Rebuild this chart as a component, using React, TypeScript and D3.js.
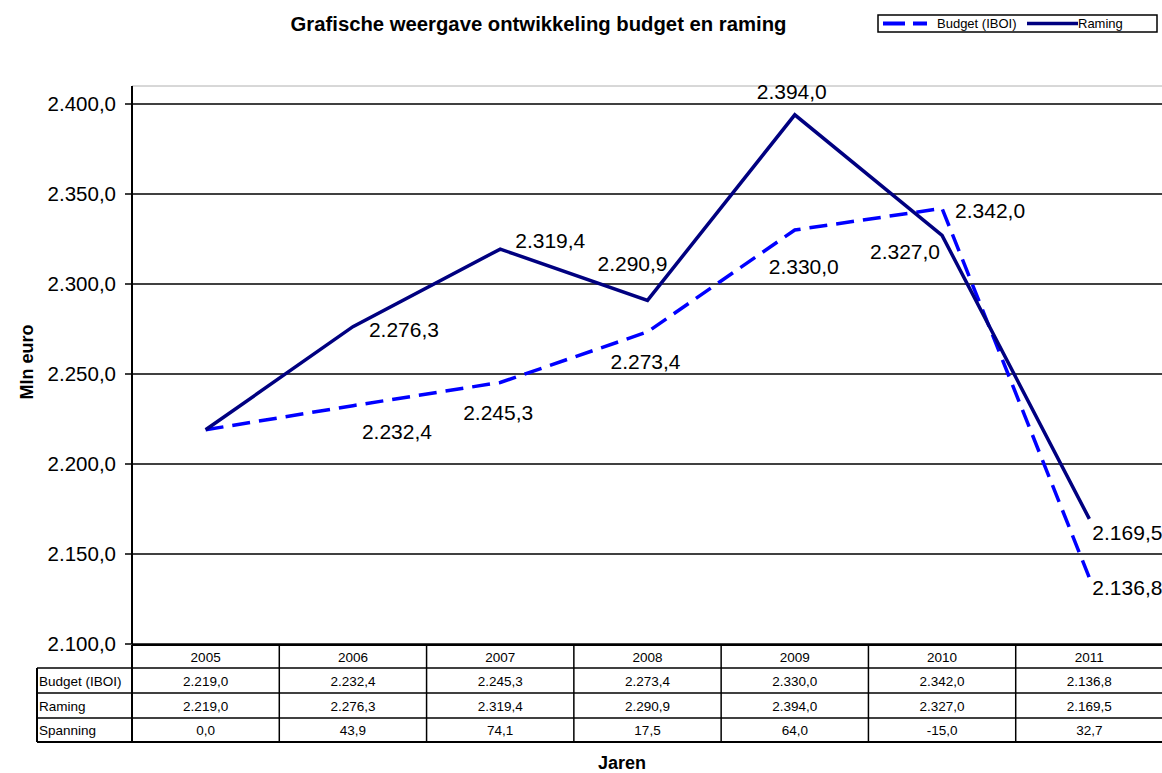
import React from "react";
import * as d3 from "d3";

const years = ["2005", "2006", "2007", "2008", "2009", "2010", "2011"];
const budget = [2219.0, 2232.4, 2245.3, 2273.4, 2330.0, 2342.0, 2136.8];
const raming = [2219.0, 2276.3, 2319.4, 2290.9, 2394.0, 2327.0, 2169.5];
const spanning = [0.0, 43.9, 74.1, 17.5, 64.0, -15.0, 32.7];
const yTicks = [2100, 2150, 2200, 2250, 2300, 2350, 2400];

// label placement (anchor, dx, dy) relative to points; null = no label
const ramingLabelPos: ([string, number, number] | null)[] = [
  null,
  ["start", 16, 10],
  ["start", 15, -1],
  ["middle", -15, -29],
  ["middle", -3, -16],
  ["end", -2, 24],
  ["start", 3, 21],
];
const budgetLabelPos: ([string, number, number] | null)[] = [
  null,
  ["start", 9, 33],
  ["middle", -2, 38],
  ["middle", -2, 37],
  ["middle", 9, 44],
  ["start", 13, 10],
  ["start", 3, 17],
];

const loc = d3.formatLocale({
  decimal: ",",
  thousands: ".",
  grouping: [3],
  currency: ["€", ""],
  minus: "-",
});
const fmt = loc.format(",.1f");

const W = 1162;
const H = 773;
const FONT = "Arial, 'Liberation Sans', sans-serif";

export default function App() {
  const left = 132;
  const right = 1163;
  const top = 86;
  const bottom = 644;
  const x = d3.scaleBand<string>().domain(years).range([left, right]).padding(0);
  const y = d3.scaleLinear().domain([2100, 2410]).range([bottom, top]);
  const cx = (i: number) => (x(years[i]) as number) + x.bandwidth() / 2;

  const line = d3
    .line<number>()
    .x((_, i) => cx(i))
    .y((d) => y(d));

  const rowH = [645, 668, 693, 718, 742];
  const tableLeft = 37;
  const rowNames = ["Budget (IBOI)", "Raming", "Spanning"];
  const rowData = [budget, raming, spanning];

  return (
    <svg
      width={W}
      height={H}
      style={{ position: "absolute", left: 0, top: 0, background: "#fff" }}
      fontFamily={FONT}
    >
      <rect x={0} y={0} width={W} height={H} fill="#fff" />
      {/* title */}
      <text x={538.5} y={30.5} textAnchor="middle" fontSize={20.3} fontWeight="bold">
        Grafische weergave ontwikkeling budget en raming
      </text>
      {/* legend */}
      <rect x={878} y={15} width={279} height={17} fill="#fff" stroke="#000" strokeWidth={1.5} />
      <line x1={883} x2={927} y1={23.5} y2={23.5} stroke="#0000FF" strokeWidth={4} strokeDasharray="22,8" />
      <text x={937} y={28} fontSize={13}>Budget (IBOI)</text>
      <line x1={1027} x2={1078} y1={23.5} y2={23.5} stroke="#000080" strokeWidth={3.5} />
      <text x={1078} y={28} fontSize={13}>Raming</text>

      {/* plot top border */}
      <line x1={left} x2={W} y1={top} y2={top} stroke="#b0b0b0" strokeWidth={1} />
      {/* gridlines */}
      {yTicks.map((t) => (
        <g key={t}>
          <line x1={left} x2={W} y1={y(t)} y2={y(t)} stroke="#000" strokeWidth={1.5} />
          <line x1={125} x2={left} y1={y(t)} y2={y(t)} stroke="#000" strokeWidth={1.5} />
          <text x={116} y={y(t) + 7} textAnchor="end" fontSize={20.5}>
            {fmt(t)}
          </text>
        </g>
      ))}
      {/* y axis */}
      <line x1={left} x2={left} y1={top} y2={bottom} stroke="#000" strokeWidth={2} />

      {/* series */}
      <path d={line(budget) || ""} fill="none" stroke="#0000FF" strokeWidth={3.5} strokeDasharray="18,9" />
      <path d={line(raming) || ""} fill="none" stroke="#000080" strokeWidth={3.5} strokeLinejoin="miter" />

      {/* data labels */}
      {raming.map((v, i) => {
        const p = ramingLabelPos[i];
        if (!p) return null;
        return (
          <text key={"r" + i} x={cx(i) + p[1]} y={y(v) + p[2]} textAnchor={p[0] as any} fontSize={21}>
            {fmt(v)}
          </text>
        );
      })}
      {budget.map((v, i) => {
        const p = budgetLabelPos[i];
        if (!p) return null;
        return (
          <text key={"b" + i} x={cx(i) + p[1]} y={y(v) + p[2]} textAnchor={p[0] as any} fontSize={21}>
            {fmt(v)}
          </text>
        );
      })}

      {/* data table */}
      <line x1={left} x2={W} y1={rowH[0]} y2={rowH[0]} stroke="#000" strokeWidth={2} />
      {rowH.slice(1).map((ry, k) => (
        <line key={"h" + k} x1={tableLeft} x2={W} y1={ry} y2={ry} stroke="#000" strokeWidth={k === 3 ? 2 : 1.5} />
      ))}
      <line x1={tableLeft} x2={tableLeft} y1={rowH[1]} y2={rowH[4]} stroke="#000" strokeWidth={2} />
      {years.map((yr, i) => {
        const bx = x(yr) as number;
        return (
          <g key={yr}>
            <line x1={bx} x2={bx} y1={rowH[0]} y2={rowH[4]} stroke="#000" strokeWidth={i === 0 ? 2 : 1.5} />
            <text x={cx(i)} y={(rowH[0] + rowH[1]) / 2 + 5} textAnchor="middle" fontSize={13.5}>
              {yr}
            </text>
            {rowData.map((arr, r) => (
              <text
                key={r}
                x={cx(i)}
                y={(rowH[r + 1] + rowH[r + 2]) / 2 + 5}
                textAnchor="middle"
                fontSize={13.5}
              >
                {fmt(arr[i])}
              </text>
            ))}
          </g>
        );
      })}
      {rowNames.map((n, r) => (
        <text key={n} x={tableLeft + 2} y={(rowH[r + 1] + rowH[r + 2]) / 2 + 5} fontSize={13.5}>
          {n}
        </text>
      ))}

      {/* axis titles */}
      <text
        transform={`translate(33,362) rotate(-90)`}
        textAnchor="middle"
        fontSize={18}
        fontWeight="bold"
      >
        Mln euro
      </text>
      <text x={622} y={769} textAnchor="middle" fontSize={18} fontWeight="bold">
        Jaren
      </text>
    </svg>
  );
}
